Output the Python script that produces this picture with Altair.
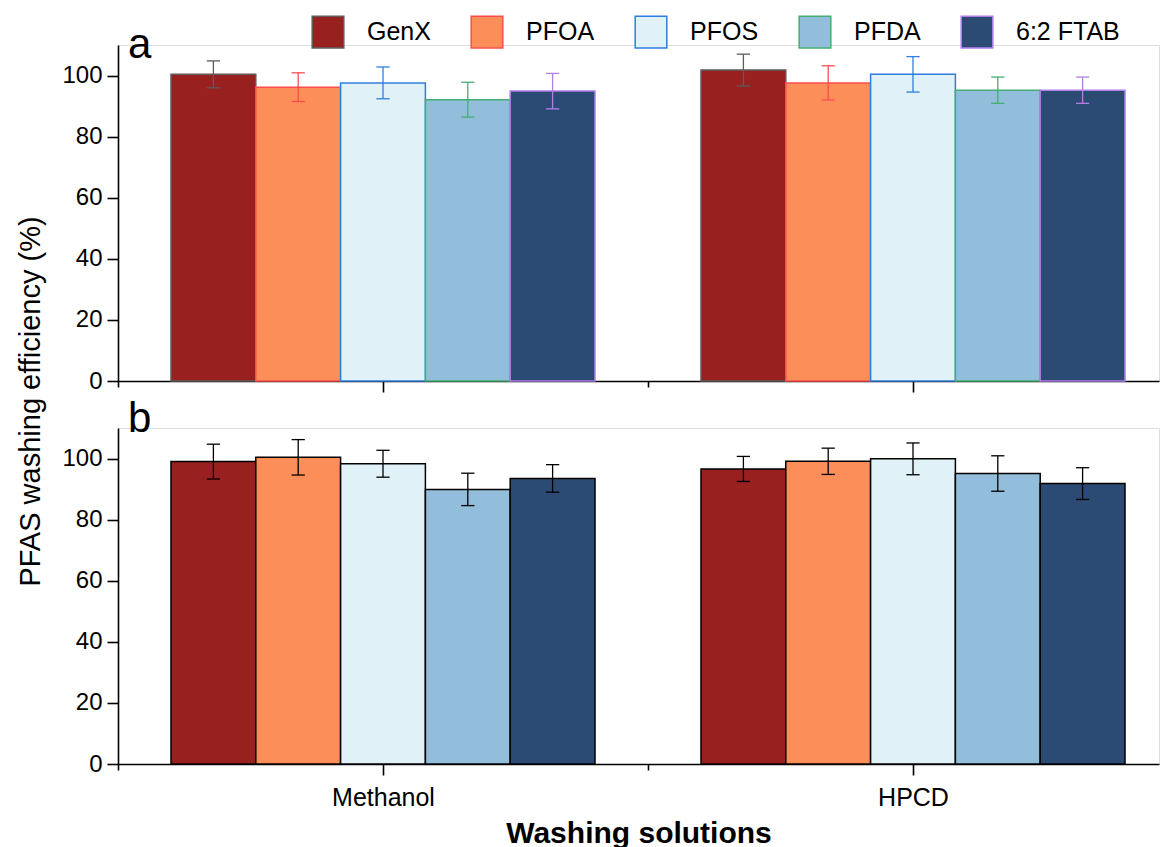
import altair as alt
import pandas as pd

# ---------------- data ----------------
pfas = ["GenX", "PFOA", "PFOS", "PFDA", "6:2 FTAB"]
solutions = ["Methanol", "HPCD"]

a_methanol = [100.4, 96.2, 97.6, 92.1, 94.9]
a_methanol_err = [4.4, 4.7, 5.2, 5.7, 5.8]
a_hpcd = [101.8, 97.6, 100.4, 95.2, 95.2]
a_hpcd_err = [5.2, 5.6, 5.8, 4.3, 4.3]

b_methanol = [99.0, 100.4, 98.3, 89.9, 93.5]
b_methanol_err = [5.7, 5.8, 4.4, 5.3, 4.5]
b_hpcd = [96.6, 99.1, 99.9, 95.1, 91.8]
b_hpcd_err = [4.1, 4.3, 5.2, 5.8, 5.2]

fill_colors = ["#982120", "#fc8e5a", "#e0f2f8", "#92bedb", "#2c4b74"]
stroke_colors = ["#5c5c5c", "#ff4d4d", "#2f7de0", "#45ad72", "#b07fe6"]

FONT = "Liberation Sans"
W, H = 1041, 336
XMAX = W / 530.0


def make_df(means, errs):
    rows = []
    for gi, sol in enumerate(solutions):
        for j, p in enumerate(pfas):
            rows.append({"solution": sol, "gi": gi, "pfas": p, "j": j,
                         "mean": means[gi][j], "err": errs[gi][j]})
    return pd.DataFrame(rows)


df_a = make_df([a_methanol, a_hpcd], [a_methanol_err, a_hpcd_err])
df_b = make_df([b_methanol, b_hpcd], [b_methanol_err, b_hpcd_err])

legend = alt.Legend(
    title=None, orient="none", legendX=193, legendY=-30, direction="horizontal",
    symbolType="square", symbolSize=1000, symbolStrokeWidth=1.5, symbolOpacity=1,
    labelFontSize=25, labelFont=FONT, labelColor="black", labelOffset=22,
    columnPadding=37, columns=5, padding=0,
)
fill_enc = alt.Fill("pfas:N", scale=alt.Scale(domain=pfas, range=fill_colors), legend=legend)
stroke_enc = alt.Stroke("pfas:N", scale=alt.Scale(domain=pfas, range=stroke_colors), legend=legend)

xscale = alt.Scale(domain=[0, XMAX], nice=False, zero=False)
yscale = alt.Scale(domain=[0, 110], nice=False, zero=False)

label_expr_x = (f"datum.value === 0.5 ? '{solutions[0]}' : "
                f"(datum.value === 1.5 ? '{solutions[1]}' : '')")


def x_axis(show_labels):
    kw = dict(
        values=[0, 0.5, 1, 1.5], domainColor="black", domainWidth=1.6,
        tickColor="black", tickWidth=1.6,
        tickSize={"condition": {"test": "datum.value % 1 === 0", "value": 6}, "value": 11},
        grid=False,
    )
    if show_labels:
        kw.update(labelExpr=label_expr_x, labelFontSize=25, labelFont=FONT,
                  labelColor="black", labelPadding=10, title="Washing solutions",
                  titleFont=FONT, titleFontSize=30, titleFontWeight="bold",
                  titleColor="black", titlePadding=8)
    else:
        kw.update(labels=False, title=None)
    return alt.Axis(**kw)


def y_axis(show_title):
    kw = dict(
        values=list(range(0, 111, 10)), domainColor="black", domainWidth=1.6,
        tickColor="black", tickWidth=1.6,
        tickSize={"condition": {"test": "datum.value % 20 === 0", "value": 11}, "value": 5},
        labelExpr="datum.value % 20 === 0 ? datum.label : ''",
        labelFontSize=24, labelFont=FONT, labelColor="black", labelPadding=5,
        grid=False,
    )
    if show_title:
        kw.update(title="PFAS washing efficiency (%)", titleFont=FONT, titleFontSize=29,
                  titleFontWeight="normal", titleColor="black", titleAngle=270,
                  titleAlign="center", titleBaseline="middle", titleX=-88, titleY=356)
    else:
        kw.update(title=None)
    return alt.Axis(**kw)


def panel(df, colored, letter, letter_y, bottom):
    base = alt.Chart(df).transform_calculate(
        xc="datum.gi + 0.5 + (datum.j - 2) * 0.16"
    ).transform_calculate(
        xl="datum.xc - 0.08", xr="datum.xc + 0.08",
        lo="datum.mean - datum.err", hi="datum.mean + datum.err",
        cl="datum.xc - 0.0125", cr="datum.xc + 0.0125",
    )
    bar_enc = dict(
        x=alt.X("xl:Q", scale=xscale, axis=x_axis(bottom)),
        x2="xr:Q",
        y=alt.Y("mean:Q", scale=yscale, axis=y_axis(not bottom)),
        y2=alt.datum(0),
        fill=fill_enc,
    )
    if colored:
        bar_enc["stroke"] = stroke_enc
        bars = base.mark_bar(strokeWidth=1.5).encode(**bar_enc)
        err_color = dict(stroke=stroke_enc)
    else:
        bars = base.mark_bar(strokeWidth=1.5, stroke="black").encode(**bar_enc)
        err_color = dict()
    rule_kw = dict(strokeWidth=1.3)
    if not colored:
        rule_kw["color"] = "black"
    vline = base.mark_rule(**rule_kw).encode(x="xc:Q", y="lo:Q", y2="hi:Q", **err_color)
    cap_hi = base.mark_rule(**rule_kw).encode(x="cl:Q", x2="cr:Q", y="hi:Q", **err_color)
    cap_lo = base.mark_rule(**rule_kw).encode(x="cl:Q", x2="cr:Q", y="lo:Q", **err_color)
    txt = alt.Chart(pd.DataFrame({"t": [letter]})).mark_text(
        font=FONT, fontSize=42, align="left", baseline="alphabetic", color="black"
    ).encode(text="t:N", x=alt.value(10), y=alt.value(letter_y))
    return alt.layer(bars, vline, cap_hi, cap_lo, txt).properties(width=W, height=H)


top = panel(df_a, True, "a", 13, False)
bot = panel(df_b, False, "b", 4, True)

chart = alt.vconcat(top, bot, spacing=47, bounds="flush").properties(
    padding={"left": 7, "top": 7, "right": 0, "bottom": 0}
).configure_view(stroke=None).configure(font=FONT)

chart.save("out.html", embed_options={"renderer": "svg", "actions": False})
